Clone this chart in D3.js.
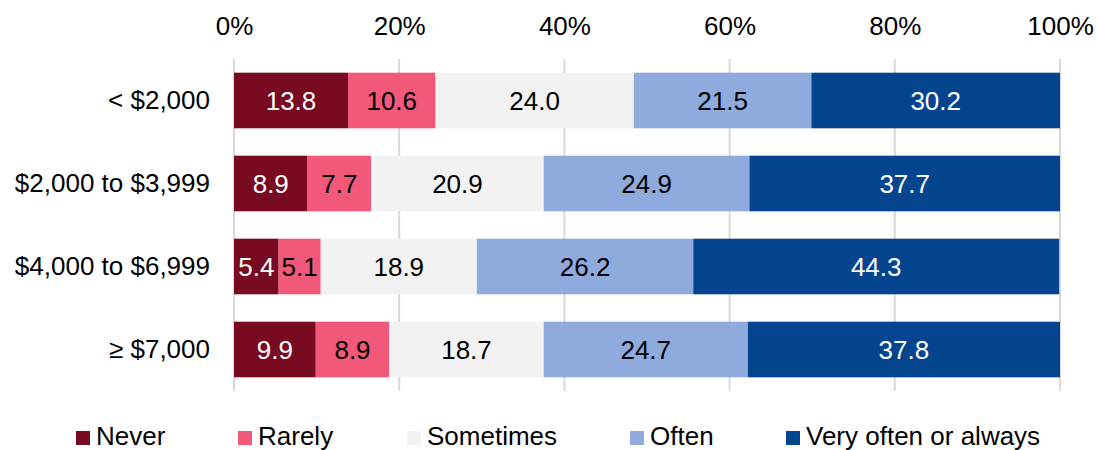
<!DOCTYPE html>
<html>
<head>
<meta charset="utf-8">
<script src="https://cdn.jsdelivr.net/npm/d3@7"></script>
<style>
  body { margin: 0; background: #fff; }
  svg text { font-family: "Liberation Sans", Arial, sans-serif; }
</style>
</head>
<body>
<svg width="1096" height="450"></svg>
<script>
const categories = ["< $2,000", "$2,000 to $3,999", "$4,000 to $6,999", "≥ $7,000"];
const seriesNames = ["Never", "Rarely", "Sometimes", "Often", "Very often or always"];
const never = [13.8, 8.9, 5.4, 9.9];
const rarely = [10.6, 7.7, 5.1, 8.9];
const sometimes = [24.0, 20.9, 18.9, 18.7];
const often = [21.5, 24.9, 26.2, 24.7];
const veryOften = [30.2, 37.7, 44.3, 37.8];
const tickValues = [0, 20, 40, 60, 80, 100];

const colours = ["#780A22", "#F2587A", "#F2F2F2", "#8FAADC", "#05448F"];
const labelColours = ["#fff", "#000", "#000", "#000", "#fff"];
const fontSize = "26px";

const margin = {top: 59, left: 234, right: 36, bottom: 59};
const width = 1096 - margin.left - margin.right,
      height = 391 - margin.top;

const svg = d3.select("svg");
const g = svg.append("g").attr("transform", `translate(${margin.left}, ${margin.top})`);

// build rows for stacking
const rows = categories.map((c, i) => ({
  cat: c,
  "Never": never[i],
  "Rarely": rarely[i],
  "Sometimes": sometimes[i],
  "Often": often[i],
  "Very often or always": veryOften[i]
}));
const stacked = d3.stack().keys(seriesNames)(rows);

const x = d3.scaleLinear().domain([0, 100]).range([0, width]);
const y = d3.scaleBand().domain(categories).range([0, height]).paddingInner(0.33).paddingOuter(0.165);

// gridlines
g.selectAll(".grid").data(tickValues).enter().append("line")
  .attr("x1", d => x(d)).attr("x2", d => x(d))
  .attr("y1", 0).attr("y2", height)
  .attr("stroke", "#d9d9d9").attr("stroke-width", 2);

// top axis labels
const xAxis = d3.axisTop(x).tickValues(tickValues).tickFormat(d => d + "%").tickSize(0).tickPadding(24);
const xg = g.append("g").call(xAxis);
xg.select(".domain").remove();
xg.selectAll("text").attr("font-size", fontSize).attr("fill", "#000")
  .style("font-family", "Liberation Sans, Arial, sans-serif");

// left axis labels
const yAxis = d3.axisLeft(y).tickSize(0).tickPadding(24);
const yg = g.append("g").call(yAxis);
yg.select(".domain").remove();
yg.selectAll("text").attr("font-size", fontSize).attr("fill", "#000")
  .style("font-family", "Liberation Sans, Arial, sans-serif");

// bars
const layers = g.selectAll(".layer").data(stacked).enter().append("g")
  .attr("fill", (d, i) => colours[i]);

layers.selectAll("rect").data(d => d).enter().append("rect")
  .attr("x", d => x(d[0]))
  .attr("y", d => y(d.data.cat))
  .attr("width", d => Math.min(x(d[1]), width) - x(d[0]))
  .attr("height", y.bandwidth());

layers.each(function(s, i) {
  d3.select(this).selectAll("text").data(s).enter().append("text")
    .attr("x", d => (x(d[0]) + Math.min(x(d[1]), width)) / 2)
    .attr("y", d => y(d.data.cat) + y.bandwidth() / 2)
    .attr("dy", "0.35em")
    .attr("text-anchor", "middle")
    .attr("font-size", fontSize)
    .attr("fill", labelColours[i])
    .text(d => (d[1] - d[0]).toFixed(1));
});

// legend
const legendX = [76, 238, 407, 630, 786];
const legend = svg.append("g");
seriesNames.forEach((name, i) => {
  legend.append("rect")
    .attr("x", legendX[i]).attr("y", 431)
    .attr("width", 14).attr("height", 14)
    .attr("fill", colours[i]);
  legend.append("text")
    .attr("x", legendX[i] + 20).attr("y", 445)
    .attr("font-size", fontSize)
    .attr("fill", "#000")
    .text(name);
});
</script>
</body>
</html>
